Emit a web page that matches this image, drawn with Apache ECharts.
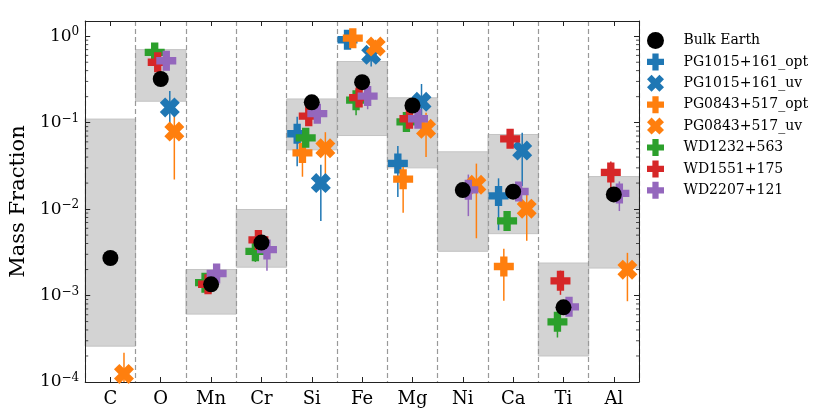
<!DOCTYPE html>
<html>
<head>
<meta charset="utf-8">
<script src="https://cdn.jsdelivr.net/npm/echarts@6/dist/echarts.min.js"></script>
<style>
html, body { margin: 0; padding: 0; background: #fff; }
#chart { width: 830px; height: 415px; }
</style>
</head>
<body>
<div id="chart"></div>
<script>
var elements = ['C', 'O', 'Mn', 'Cr', 'Si', 'Fe', 'Mg', 'Ni', 'Ca', 'Ti', 'Al'];

// grey band per element
var rangeLow = [2.6e-4, 0.177, 6.1e-4, 0.00213, 0.0485, 0.071, 0.030, 0.00325, 0.0052, 2.0e-4, 0.00208];
var rangeHigh = [0.110, 0.70, 0.0020, 0.0099, 0.188, 0.51, 0.194, 0.046, 0.073, 0.00238, 0.0238];

var bulkEarth = [0.00272, 0.32, 0.00135, 0.0041, 0.172, 0.294, 0.158, 0.0166, 0.0159, 7.3e-4, 0.0148];

// values and symmetric errors, null = not measured
var pg1015OptVal = [null, null, null, null, 0.0744, 0.91, 0.0338, null, 0.0142, null, null];
var pg1015OptErr = [null, null, null, null, 0.043, 0.1, 0.020, null, 0.0085, null, null];
var pg1015UvVal = [null, 0.15, null, null, 0.020, 0.61, 0.174, null, 0.0475, null, null];
var pg1015UvErr = [null, 0.083, null, null, 0.0127, 0.165, 0.106, null, 0.029, null, null];
var pg0843OptVal = [null, null, null, null, 0.0447, 0.95, 0.0222, null, 0.00217, null, null];
var pg0843OptErr = [null, null, null, null, 0.021, 0.1, 0.0131, null, 0.0013, null, null];
var pg0843UvVal = [1.24e-4, 0.079, null, null, 0.0506, 0.76, 0.085, 0.0191, 0.0101, null, 0.00199];
var pg0843UvErr = [0.94e-4, 0.057, null, null, 0.027, 0.15, 0.045, 0.0145, 0.0058, null, 0.00113];
var wd1232Val = [null, 0.65, 0.00141, 0.00325, 0.0668, 0.182, 0.102, null, 0.0073, 0.000497, null];
var wd1232Err = [null, 0.05, 0.0002, 0.0008, 0.01, 0.06, 0.015, null, 0.001, 0.00017, null];
var wd1551Val = [null, 0.50, 0.00135, 0.0044, 0.119, 0.195, 0.111, null, 0.065, 0.00148, 0.0266];
var wd1551Err = [null, 0.05, 0.0002, 0.0006, 0.015, 0.03, 0.015, null, 0.008, 0.00046, 0.009];
var wd2207Val = [null, 0.52, 0.0018, 0.0034, 0.127, 0.203, 0.111, 0.0167, 0.016, 0.00074, 0.0152];
var wd2207Err = [null, 0.06, 0.0003, 0.00146, 0.02, 0.06, 0.02, 0.0084, 0.003, 0.0001, 0.0057];

var yTicks = ['10^0', '10^-1', '10^-2', '10^-3', '10^-4'];

var PLUS = 'path://M-1.1,-3L1.1,-3L1.1,-1.1L3,-1.1L3,1.1L1.1,1.1L1.1,3L-1.1,3L-1.1,1.1L-3,1.1L-3,-1.1L-1.1,-1.1Z';
var CROSS = 'path://M1.9,-4.1L4.1,-1.9L2.2,0L4.1,1.9L1.9,4.1L0,2.2L-1.9,4.1L-4.1,1.9L-2.2,0L-4.1,-1.9L-1.9,-4.1L0,-2.2Z';
var FONT = 'DejaVu Serif';

var stars = [
  { name: 'PG1015+161_opt', val: pg1015OptVal, err: pg1015OptErr, color: '#1f77b4', symbol: PLUS, dx: -0.29 },
  { name: 'PG1015+161_uv', val: pg1015UvVal, err: pg1015UvErr, color: '#1f77b4', symbol: CROSS, dx: 0.18 },
  { name: 'PG0843+517_opt', val: pg0843OptVal, err: pg0843OptErr, color: '#ff7f0e', symbol: PLUS, dx: -0.185 },
  { name: 'PG0843+517_uv', val: pg0843UvVal, err: pg0843UvErr, color: '#ff7f0e', symbol: CROSS, dx: 0.27 },
  { name: 'WD1232+563', val: wd1232Val, err: wd1232Err, color: '#2ca02c', symbol: PLUS, dx: -0.12 },
  { name: 'WD1551+175', val: wd1551Val, err: wd1551Err, color: '#d62728', symbol: PLUS, dx: -0.06 },
  { name: 'WD2207+121', val: wd2207Val, err: wd2207Err, color: '#9467bd', symbol: PLUS, dx: 0.11 }
];

var minorTicks = [];
for (var d = -4; d <= 0; d++) {
  for (var k = 2; k <= 9; k++) {
    var mv = k * Math.pow(10, d);
    if (mv < 1.5) minorTicks.push(mv);
  }
}

function yLabel(v) {
  var e = Math.round(Math.log10(v));
  if (Math.abs(Math.log10(v) - e) > 1e-6) return '';
  var t = yTicks[-e];
  if (!t) return '';
  var exp = t.split('^')[1].replace('-', '\u2212');
  return '{b|10}{s|' + exp + '}';
}

var chart = echarts.init(document.getElementById('chart'));

var series = [];

series.push({
  type: 'custom',
  name: 'range',
  xAxisIndex: 2,
  z: -1,
  silent: true,
  data: elements.map(function (e, i) { return [i, rangeLow[i], rangeHigh[i]]; }),
  renderItem: function (params, api) {
    var i = api.value(0);
    var p1 = api.coord([i - 0.5, api.value(2)]);
    var p2 = api.coord([i + 0.5, api.value(1)]);
    return {
      type: 'rect',
      shape: { x: p1[0], y: p1[1], width: p2[0] - p1[0], height: p2[1] - p1[1] },
      style: { fill: '#d3d3d3', stroke: '#c4c4c4', lineWidth: 1 }
    };
  }
});

series.push({
  type: 'custom',
  name: 'minor',
  xAxisIndex: 2,
  silent: true,
  z: 1,
  data: minorTicks.map(function (v) { return [v]; }),
  renderItem: function (params, api) {
    var l = api.coord([-0.5, api.value(0)]);
    var r = api.coord([10.5, api.value(0)]);
    return {
      type: 'group',
      children: [
        { type: 'line', shape: { x1: l[0], y1: l[1], x2: l[0] + 3, y2: l[1] }, style: { stroke: '#222', lineWidth: 0.8 } },
        { type: 'line', shape: { x1: r[0], y1: r[1], x2: r[0] - 3, y2: r[1] }, style: { stroke: '#222', lineWidth: 0.8 } }
      ]
    };
  }
});

stars.forEach(function (s) {
  var pts = [];
  s.val.forEach(function (v, i) {
    if (v != null) pts.push([i + s.dx, v, s.err[i]]);
  });
  series.push({
    type: 'custom',
    name: s.name + ' err',
    xAxisIndex: 2,
    silent: true,
    z: 2,
    clip: true,
    data: pts,
    renderItem: function (params, api) {
      var x = api.value(0), v = api.value(1), e = api.value(2);
      var lo = Math.max(v - e, 1e-6);
      var a = api.coord([x, v + e]);
      var b = api.coord([x, lo]);
      return {
        type: 'line',
        shape: { x1: a[0], y1: a[1], x2: b[0], y2: b[1] },
        style: { stroke: s.color, lineWidth: 1.5 }
      };
    }
  });
  series.push({
    type: 'scatter',
    name: s.name,
    xAxisIndex: 2,
    z: 3,
    symbol: s.symbol,
    symbolSize: 20,
    itemStyle: { color: s.color, opacity: 1 },
    data: pts.map(function (p) { return [p[0], p[1]]; })
  });
});

series.push({
  type: 'scatter',
  name: 'Bulk Earth',
  xAxisIndex: 2,
  z: 5,
  symbol: 'circle',
  symbolSize: 16,
  itemStyle: { color: '#000', opacity: 1 },
  data: bulkEarth.map(function (v, i) { return [i, v]; })
});

var legendNames = ['Bulk Earth'].concat(stars.map(function (s) { return s.name; }));

chart.setOption({
  animation: false,
  grid: { left: 83, right: 191, top: 21, bottom: 33 },
  legend: {
    orient: 'vertical',
    left: 642,
    top: 27,
    itemWidth: 36,
    itemHeight: 17,
    itemGap: 4.4,
    data: legendNames,
    selectedMode: false,
    textStyle: { fontFamily: FONT, fontSize: 14, color: '#000', padding: [0, 0, 0, 5] }
  },
  xAxis: [
    {
      type: 'category',
      data: elements,
      position: 'bottom',
      axisLine: { onZero: false, lineStyle: { color: '#222', width: 1 } },
      axisTick: { show: true, inside: true, alignWithLabel: true, length: 5, lineStyle: { color: '#222' } },
      axisLabel: { fontFamily: FONT, fontSize: 18, color: '#000', margin: 8 },
      splitLine: { show: true, lineStyle: { color: '#999', type: [5, 3], width: 1.2 } }
    },
    {
      type: 'category',
      data: elements,
      position: 'top',
      axisLine: { onZero: false, lineStyle: { color: '#222', width: 1 } },
      axisTick: { show: true, inside: true, alignWithLabel: true, length: 5, lineStyle: { color: '#222' } },
      axisLabel: { show: false },
      splitLine: { show: false }
    },
    {
      type: 'value',
      min: -0.5,
      max: 10.5,
      show: false
    }
  ],
  yAxis: [
    {
      type: 'log',
      logBase: 10,
      min: 1e-4,
      max: 1.5,
      name: 'Mass Fraction',
      nameLocation: 'middle',
      nameGap: 55,
      nameTextStyle: { fontFamily: FONT, fontSize: 21, color: '#000' },
      axisLine: { show: true, onZero: false, lineStyle: { color: '#222', width: 1 } },
      axisTick: { show: true, inside: true, length: 5, lineStyle: { color: '#222' } },
      splitLine: { show: false },
      axisLabel: {
        formatter: yLabel,
        margin: 6,
        rich: {
          b: { fontFamily: FONT, fontSize: 17, color: '#000', lineHeight: 20 },
          s: { fontFamily: FONT, fontSize: 12, color: '#000', verticalAlign: 'top', lineHeight: 12, padding: [0, 0, 10, 0] }
        }
      }
    },
    {
      type: 'log',
      logBase: 10,
      min: 1e-4,
      max: 1.5,
      position: 'right',
      axisLine: { show: true, onZero: false, lineStyle: { color: '#222', width: 1 } },
      axisTick: { show: true, inside: true, length: 5, lineStyle: { color: '#222' } },
      axisLabel: { show: false },
      splitLine: { show: false }
    }
  ],
  series: series
});
</script>
</body>
</html>
